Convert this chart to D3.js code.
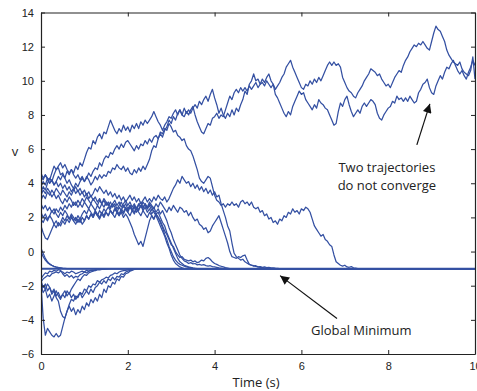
<!DOCTYPE html>
<html>
<head>
<meta charset="utf-8">
<script src="https://cdn.jsdelivr.net/npm/d3@7"></script>
<style>
  body { margin: 0; background: #fff; }
  svg { display: block; font-family: "Open Sans", "Liberation Sans", sans-serif; }
  .traj { fill: none; stroke: #3450a2; stroke-width: 1.25; stroke-linejoin: round; }
  .axis text { font-size: 11px; fill: #222; }
  .axis path, .axis line { stroke: #222; }
  .note { font-size: 13px; fill: #222; }
</style>
</head>
<body>
<svg class="chart"></svg>
<script>
// sample spacing of every trajectory (s)
var dt = 0.05;
var tEnd = 10;
var xTicks = [0, 2, 4, 6, 8, 10];
var yTicks = [-6, -4, -2, 0, 2, 4, 6, 8, 10, 12, 14];

// the two trajectories that never settle
var wanderA = [3.8,4.1,3.9,4.3,4.2,4.6,5.0,4.8,4.9,4.5,4.6,4.3,4.7,4.5,4.8,4.6,5.0,4.8,5.2,5.0,
  5.4,5.8,6.1,6.0,6.5,6.3,6.7,6.9,6.6,7.0,6.9,7.3,7.7,7.4,7.1,6.9,7.2,7.0,7.4,7.1,
  7.3,7.0,7.4,7.2,7.5,7.2,7.6,7.4,7.7,7.5,7.7,7.9,8.2,7.9,7.6,7.4,7.1,7.4,7.6,7.9,
  7.8,8.1,8.3,8.0,8.3,8.0,8.4,8.1,8.3,8.1,8.4,8.6,8.4,8.8,8.6,8.9,9.1,8.8,9.2,9.5,
  9.0,8.6,8.1,8.4,8.0,7.8,8.1,7.9,8.3,8.0,8.4,8.2,8.6,8.9,9.4,9.2,9.8,10.0,10.4,10.0,
  10.1,9.8,10.1,9.9,10.2,10.4,10.0,9.8,9.2,9.0,8.7,8.4,8.1,7.9,8.2,8.0,8.5,8.8,9.1,9.4,
  9.2,9.3,8.9,8.7,8.5,8.3,8.6,8.4,8.9,8.7,8.6,8.4,8.3,8.0,7.7,7.4,7.5,8.2,8.7,8.5,
  8.9,9.1,8.6,8.2,7.9,8.1,8.3,8.1,8.5,8.7,8.5,8.7,8.9,8.8,8.6,8.1,7.8,7.7,8.0,8.2,
  8.4,8.5,8.8,8.7,9.1,8.9,9.0,8.8,9.0,8.8,9.1,8.9,8.7,8.8,9.3,9.5,9.8,9.9,10.1,9.6,
  9.3,9.2,9.7,10.0,10.3,10.1,10.5,10.8,10.7,11.0,11.2,10.9,10.6,10.4,10.6,10.3,10.1,10.5,10.8,11.2,
  10.9];
var wanderB = [4.4,4.2,4.5,4.3,4.0,4.2,3.9,4.1,4.4,4.2,4.5,4.3,4.0,4.2,3.9,3.7,4.0,3.8,4.1,4.3,
  4.1,4.4,4.2,3.9,4.1,4.4,4.2,4.5,4.3,4.5,4.4,4.7,4.6,4.9,4.8,5.1,4.9,4.8,5.0,4.7,
  4.9,4.6,4.5,4.8,4.6,4.9,4.7,5.0,4.8,5.1,5.4,5.9,6.2,6.1,6.6,6.9,6.7,7.1,7.3,7.7,
  7.5,7.9,7.7,8.1,8.3,8.0,7.9,8.2,8.0,8.3,8.5,8.0,7.6,7.3,7.0,6.9,7.2,7.5,7.4,7.8,
  7.9,8.1,7.8,8.0,7.9,8.3,8.7,9.1,8.9,9.3,9.5,9.3,9.6,9.4,9.6,9.4,9.7,9.5,9.7,9.9,
  9.6,9.8,9.9,9.7,10.0,9.8,9.6,9.8,9.5,9.7,9.9,10.2,10.4,10.8,11.0,11.2,10.8,10.5,10.2,9.9,
  9.6,9.5,9.8,9.7,10.0,9.8,10.1,9.9,10.2,10.0,10.3,10.6,10.9,11.1,10.9,11.1,10.9,11.0,10.8,10.2,
  9.9,9.6,9.4,9.3,9.1,9.0,9.3,9.5,9.7,10.0,10.2,10.4,10.7,10.6,10.5,10.3,10.4,10.1,9.9,9.7,
  9.8,9.6,9.9,10.2,10.4,10.6,10.5,10.9,11.2,11.4,11.7,11.9,12.1,12.0,12.2,12.1,12.3,12.1,11.9,11.8,
  12.3,12.8,13.2,13.0,12.9,12.6,12.3,11.8,11.5,11.3,11.1,11.0,10.9,11.1,10.7,10.5,10.4,10.3,10.6,11.4,
  10.1];

// trajectories that start high and settle late
var lateA = [3.5,3.8,3.6,4.0,4.3,4.1,4.5,4.8,5.0,5.2,4.9,5.1,4.8,4.6,4.8,4.5,4.3,4.5,4.2,4.4,
  4.1,4.3,4.6,4.4,4.7,4.9,4.8,5.2,5.0,5.4,5.6,5.5,5.8,5.7,6.0,6.2,6.0,6.3,6.1,6.4,
  6.5,6.3,6.1,5.9,6.2,6.0,6.3,6.2,6.5,6.3,6.6,6.4,6.7,6.8,6.6,7.0,6.9,7.2,7.1,7.5,
  7.3,7.0,7.1,6.8,6.7,6.5,6.6,6.2,6.0,5.9,5.6,5.2,4.8,4.3,4.1,4.0,4.2,4.4,4.3,3.8,
  3.3,3.0,2.9,2.7,2.8,2.6,2.8,2.7,2.9,2.7,2.8,2.6,2.9,3.0,2.8,2.9,2.7,2.9,2.6,2.5,
  2.6,2.3,2.4,2.1,2.2,1.9,2.0,1.7,1.8,1.6,1.9,1.8,2.1,2.0,2.3,2.2,2.5,2.3,2.4,2.2,
  2.5,2.4,2.6,2.5,2.3,1.9,1.5,1.3,1.1,0.9,1.0,0.7,0.6,0.4,0.3,-0.2,-0.6,-0.7,-0.8,-0.85,
  -0.8,-0.9,-0.92,-0.88,-0.95,-0.97,-1];
var lateB = [3.0,3.3,3.1,3.5,3.3,3.6,3.4,3.7,3.5,3.3,3.6,3.4,3.2,3.5,3.3,3.6,3.8,3.5,3.7,3.4,
  3.6,3.3,3.5,3.2,3.4,3.7,3.5,3.8,3.6,3.4,3.6,3.3,3.5,3.2,3.4,3.1,3.3,3.0,3.2,2.9,
  3.1,3.3,3.0,3.2,2.9,3.1,2.8,3.0,3.2,2.9,3.1,2.9,3.2,3.0,3.3,3.1,3.0,3.2,2.9,3.1,
  3.4,3.7,3.9,4.2,4.0,4.4,4.2,4.0,4.1,3.8,4.0,3.7,3.9,3.6,3.8,3.5,3.7,3.4,3.6,3.3,
  3.5,3.2,3.3,2.8,2.4,2.0,1.5,1.2,0.5,-0.1,-0.3,-0.4,-0.5,-0.45,-0.6,-0.68,-0.75,-0.8,-0.82,-0.87,
  -0.9,-0.92,-0.94,-0.96,-0.97,-0.99,-1];
var lateC = [2.3,2.0,2.2,1.9,2.1,2.4,2.2,2.5,2.3,2.6,2.4,2.7,2.5,2.8,2.6,2.9,2.7,3.0,2.8,2.6,
  2.9,2.7,2.5,2.8,2.6,2.4,2.7,2.5,2.8,2.6,2.9,2.7,2.5,2.8,2.6,2.4,2.2,2.5,2.3,2.6,
  2.4,2.7,2.5,2.3,2.6,2.4,2.7,2.5,2.8,2.6,2.9,2.7,2.5,2.8,2.6,2.9,2.7,2.5,2.3,2.6,
  2.4,2.7,2.5,2.3,2.6,2.5,2.3,2.4,2.1,2.3,2.0,1.8,1.9,1.6,1.5,1.3,1.4,1.1,1.2,1.5,
  1.7,1.9,2.1,1.7,1.3,0.9,0.5,0.0,-0.3,-0.35,-0.4,-0.3,-0.35,-0.25,-0.2,-0.5,-0.75,-0.8,-0.85,-0.83,
  -0.9,-0.88,-0.92,-0.9,-0.94,-0.93,-0.96,-0.95,-0.97,-0.98,-1];

// the bundle that drops to the minimum near t = 3
var bundle1 = [1.9,1.7,2.0,1.8,2.1,1.9,1.6,1.8,1.5,1.7,2.0,1.8,2.1,1.9,2.2,2.0,1.8,2.1,1.9,2.2,
  2.4,2.2,2.5,2.3,2.1,2.4,2.2,2.0,2.3,2.1,2.4,2.6,2.4,2.2,2.5,2.3,2.6,2.4,2.7,2.5,
  2.3,2.6,2.4,2.7,2.5,2.8,2.6,2.9,2.7,2.5,2.8,2.6,2.3,2.1,1.8,1.5,1.2,0.9,0.5,0.2,
  -0.2,-0.5,-0.7,-0.8,-0.9,-0.95,-1];
var bundle2 = [3.3,3.6,3.4,3.7,3.5,3.2,3.4,3.1,3.3,3.0,2.8,3.1,2.9,3.2,3.0,2.7,2.9,2.6,2.8,3.1,
  2.9,3.2,3.0,2.8,3.1,2.9,2.7,3.0,2.8,3.1,2.9,2.7,2.9,2.6,2.8,2.5,2.7,2.9,2.6,2.8,
  2.5,2.7,2.4,2.6,2.3,2.5,2.7,2.4,2.6,2.3,2.5,2.2,2.4,2.2,2.3,2.0,1.7,1.5,1.1,0.8,
  0.5,0.2,-0.1,-0.4,-0.6,-0.7,-0.8,-0.85,-0.9,-0.93,-0.96,-0.98,-1];
var bundle3 = [1.5,1.1,0.8,0.7,1.0,1.3,1.6,1.4,1.7,1.5,1.8,1.6,1.9,1.7,2.0,1.8,1.6,1.9,1.7,2.0,
  1.8,2.1,1.9,2.2,2.0,2.3,2.1,1.9,2.2,2.0,2.3,2.1,2.4,2.2,2.0,2.3,2.1,2.4,2.2,2.5,
  2.3,2.1,2.4,2.2,2.5,2.3,2.1,2.4,2.2,2.0,2.3,2.1,1.9,2.2,2.0,1.8,1.5,1.2,1.0,0.7,
  0.4,0.3,0.0,-0.2,-0.35,-0.3,-0.45,-0.5,-0.55,-0.5,-0.6,-0.55,-0.65,-0.6,-0.5,-0.55,-0.4,-0.35,-0.45,-0.6,
  -0.7,-0.75,-0.82,-0.86,-0.9,-0.94,-0.97,-1];
var bundle4 = [2.8,2.5,2.7,2.4,2.6,2.3,2.5,2.2,2.0,2.3,2.1,2.4,2.2,1.9,2.1,1.8,2.0,1.7,1.9,1.6,
  1.8,2.1,1.9,2.2,2.0,2.3,2.1,2.4,2.2,2.5,2.3,2.1,2.4,2.2,2.5,2.3,2.1,2.3,2.0,2.2,
  2.0,1.7,1.4,1.0,0.7,0.4,0.6,0.3,0.8,1.3,1.8,2.1,1.9,2.2,2.0,1.7,1.4,1.0,0.7,0.3,
  0.0,-0.3,-0.5,-0.65,-0.75,-0.8,-0.85,-0.9,-0.93,-0.96,-1];
var bundle5 = [4.6,4.3,4.5,4.2,4.0,4.2,3.9,4.1,3.8,4.0,3.7,3.9,3.6,3.8,3.5,3.7,3.4,3.6,3.3,3.5,
  3.2,3.4,3.1,3.3,3.0,3.2,2.9,3.1,2.8,3.0,2.7,2.9,2.6,2.8,3.0,2.7,2.9,2.6,2.8,3.0,
  2.7,2.9,2.6,2.8,2.5,2.7,2.9,2.6,2.8,2.5,2.7,2.4,2.6,2.3,2.5,2.2,2.4,2.1,1.8,1.4,
  1.1,0.7,0.4,0.1,-0.2,-0.4,-0.55,-0.6,-0.7,-0.65,-0.72,-0.7,-0.78,-0.75,-0.8,-0.77,-0.82,-0.85,-0.83,-0.88,
  -0.9,-0.92,-0.95,-0.97,-1];

// trajectories starting near zero
var near1 = [0.2,-0.1,-0.4,-0.6,-0.72,-0.8,-0.86,-0.9,-0.93,-0.95,-0.97,-0.98,-1];
var near2 = [0.0,-0.3,-0.5,-0.65,-0.75,-0.82,-0.88,-0.92,-0.95,-0.97,-1];

// trajectories starting below the minimum
var low1 = [-1.9,-3.9,-4.9,-4.5,-4.7,-4.9,-5.0,-4.8,-5.0,-4.9,-4.4,-3.9,-3.5,-3.1,-2.8,-2.9,-2.6,-2.7,-2.4,-2.5,
  -2.2,-2.3,-2.0,-2.1,-1.9,-1.95,-1.7,-1.8,-1.65,-1.6,-1.5,-1.55,-1.4,-1.35,-1.25,-1.3,-1.2,-1.15,-1.12,-1.1,
  -1.07,-1.05,-1.03,-1.02,-1];
var low2 = [-1.7,-2.1,-1.9,-2.3,-2.1,-2.5,-2.3,-2.7,-2.9,-3.5,-3.8,-3.9,-3.5,-3.2,-3.5,-3.3,-3.7,-3.4,-3.6,-3.2,
  -3.4,-3.0,-3.2,-2.8,-3.0,-2.7,-2.9,-2.5,-2.7,-2.2,-2.4,-2.0,-2.1,-1.8,-1.9,-1.6,-1.7,-1.45,-1.5,-1.3,
  -1.25,-1.15,-1.1,-1.05,-1.02,-1];
var low3 = [-2.3,-2.0,-2.2,-1.9,-2.1,-2.4,-2.2,-2.6,-2.4,-2.7,-2.5,-2.3,-2.6,-2.4,-2.7,-2.5,-2.8,-2.6,-2.4,-2.7,
  -2.5,-2.3,-2.5,-2.2,-2.4,-2.1,-2.0,-1.8,-1.9,-1.7,-1.85,-1.6,-1.7,-1.5,-1.65,-1.45,-1.5,-1.3,-1.35,-1.2,
  -1.15,-1.1,-1.06,-1.03,-1];
var low4 = [-1.6,-1.4,-1.25,-1.3,-1.15,-1.2,-1.1,-1.15,-1.06,-1.1,-1.3,-1.45,-1.35,-1.5,-1.4,-1.55,-1.45,-1.5,-1.35,-1.3,
  -1.2,-1.25,-1.15,-1.1,-1.12,-1.06,-1.04,-1.02,-1];
var low5 = [-1.8,-1.6,-1.5,-1.4,-1.45,-1.3,-1.25,-1.2,-1.25,-1.15,-1.2,-1.3,-1.2,-1.25,-1.15,-1.2,-1.3,-1.25,-1.2,-1.15,
  -1.2,-1.1,-1.15,-1.1,-1.08,-1.12,-1.06,-1.08,-1.04,-1.05,-1.03,-1.02,-1];
var low6 = [-2.0,-2.4,-2.2,-2.7,-2.5,-2.9,-2.6,-2.3,-2.6,-2.8,-2.5,-2.7,-2.3,-2.5,-2.2,-2.0,-1.8,-1.6,-1.7,-1.5,
  -1.35,-1.4,-1.25,-1.2,-1.15,-1.1,-1.05,-1];

var trajectories = [low1, low2, low3, low4, low5, low6, near1, near2,
  bundle1, bundle2, bundle3, bundle4, bundle5, lateC, lateB, lateA, wanderA, wanderB];

// annotations in data units
var notes = [
  {lines: ["Two trajectories", "do not converge"], t: 7.97, v: 4.65},
  {lines: ["Global Minimum"], t: 7.38, v: -4.86}
];
var arrows = [
  {from: [8.66, 6.25], to: [8.96, 8.65]},
  {from: [6.82, -3.92], to: [5.51, -1.41]}
];

var margin = {top: 12.5, right: 2, bottom: 37, left: 41},
  width = 477 - margin.left - margin.right,
  height = 391 - margin.top - margin.bottom;

var svg = d3.select("svg.chart")
  .attr("width", width + margin.left + margin.right)
  .attr("height", height + margin.top + margin.bottom)
.append("g")
  .attr("transform", "translate(" + margin.left + "," + margin.top + ")");

var x = d3.scaleLinear().domain([0, 10]).range([0, width]);
var y = d3.scaleLinear().domain([-6, 14]).range([height, 0]);

svg.append("defs").append("clipPath").attr("id", "plot")
  .append("rect").attr("width", width).attr("height", height);

// turn each value list into points; settled runs hold at -1 until the end
function points(vals) {
  var pts = vals.map(function(v, i) { return [i * dt, v]; });
  if (vals[vals.length - 1] === -1) pts.push([tEnd, -1]);
  return pts;
}

var line = d3.line()
  .x(function(d) { return x(d[0]); })
  .y(function(d) { return y(d[1]); });

svg.append("g")
  .attr("clip-path", "url(#plot)")
  .selectAll("path")
  .data(trajectories)
  .enter().append("path")
    .attr("class", "traj")
    .attr("d", function(d) { return line(points(d)); });

// the settled trajectories pile up into one heavier line at the minimum
svg.append("line")
  .attr("x1", x(0)).attr("x2", x(tEnd))
  .attr("y1", y(-1)).attr("y2", y(-1))
  .attr("stroke", "#3450a2")
  .attr("stroke-width", 2);

// axes with inward ticks on all four sides
var fmt = d3.format("d");
svg.append("g").attr("class", "axis")
  .attr("transform", "translate(0," + height + ")")
  .call(d3.axisBottom(x).tickValues(xTicks).tickFormat(fmt).tickSizeInner(-4).tickSizeOuter(0).tickPadding(8));
svg.append("g").attr("class", "axis")
  .call(d3.axisLeft(y).tickValues(yTicks).tickFormat(fmt).tickSizeInner(-4).tickSizeOuter(0).tickPadding(7));
svg.append("g").attr("class", "axis")
  .call(d3.axisTop(x).tickValues(xTicks).tickFormat("").tickSizeInner(-4).tickSizeOuter(0));
svg.append("g").attr("class", "axis")
  .attr("transform", "translate(" + width + ",0)")
  .call(d3.axisRight(y).tickValues(yTicks).tickFormat("").tickSizeInner(-4).tickSizeOuter(0));
svg.selectAll(".axis .domain").attr("stroke-width", 1.2);

// axis titles
svg.append("text")
  .attr("class", "note")
  .attr("x", x(5) - 2)
  .attr("y", height + 33)
  .attr("text-anchor", "middle")
  .text("Time (s)");
svg.append("text")
  .attr("class", "note")
  .attr("x", -26)
  .attr("y", y(5.6))
  .attr("text-anchor", "middle")
  .text("v");

// annotation text
notes.forEach(function(n) {
  var t = svg.append("text")
    .attr("class", "note")
    .attr("text-anchor", "middle");
  n.lines.forEach(function(s, i) {
    t.append("tspan")
      .attr("x", x(n.t))
      .attr("y", y(n.v) + i * 18)
      .text(s);
  });
});

// arrows with filled heads
svg.select("defs").append("marker")
    .attr("id", "head")
    .attr("viewBox", "0 0 10 10")
    .attr("refX", 10).attr("refY", 5)
    .attr("markerWidth", 11).attr("markerHeight", 9)
    .attr("markerUnits", "userSpaceOnUse")
    .attr("orient", "auto")
  .append("path")
    .attr("d", "M0,0L10,5L0,10z")
    .attr("fill", "#111");

svg.selectAll(".arrow")
  .data(arrows)
  .enter().append("line")
    .attr("class", "arrow")
    .attr("x1", function(d) { return x(d.from[0]); })
    .attr("y1", function(d) { return y(d.from[1]); })
    .attr("x2", function(d) { return x(d.to[0]); })
    .attr("y2", function(d) { return y(d.to[1]); })
    .attr("stroke", "#111")
    .attr("stroke-width", 1.2)
    .attr("marker-end", "url(#head)");
</script>
</body>
</html>
